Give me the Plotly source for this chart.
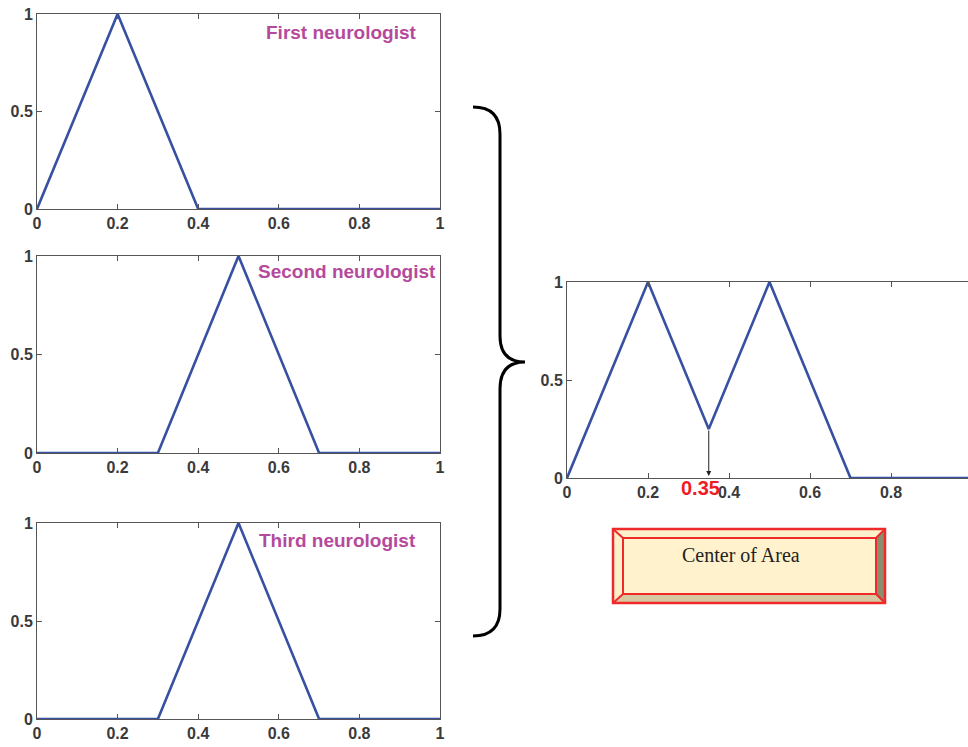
import plotly.graph_objects as go

# ---------------- data ----------------
x_first = [0, 0.2, 0.4, 1]
y_first = [0, 1, 0, 0]
x_second = [0, 0.3, 0.5, 0.7, 1]
y_second = [0, 0, 1, 0, 0]
x_third = [0, 0.3, 0.5, 0.7, 1]
y_third = [0, 0, 1, 0, 0]
x_agg = [0, 0.2, 0.35, 0.5, 0.7, 1]
y_agg = [0, 1, 0.25, 1, 0, 0]
coa_value = 0.35
coa_level = 0.25
titles = ["First neurologist", "Second neurologist", "Third neurologist"]
box_label = "Center of Area"
x_ticks = [0, 0.2, 0.4, 0.6, 0.8, 1]
x_tick_text = ["0", "0.2", "0.4", "0.6", "0.8", "1"]
y_ticks = [0, 0.5, 1]
y_tick_text = ["0", "0.5", "1"]

W, H = 968, 747
def px(x):
    return x / W
def py(y):
    return 1 - y / H

BLUE = "#3750A2"
MAG = "#B54A9C"
AX = "#555555"
TXT = "#3a3a3a"
FONT = "Liberation Sans Narrow, Arial Narrow, Liberation Sans, Arial, sans-serif"

fig = go.Figure()
series = [(x_first, y_first), (x_second, y_second), (x_third, y_third), (x_agg, y_agg)]
for i, (xs, ys) in enumerate(series):
    fig.add_trace(go.Scatter(x=xs, y=ys, mode="lines",
                             line=dict(color=BLUE, width=2.6),
                             xaxis="x" if i == 0 else f"x{i+1}",
                             yaxis="y" if i == 0 else f"y{i+1}",
                             showlegend=False, hoverinfo="skip"))

def xax(domain, anchor, rng=(0, 1)):
    return dict(domain=domain, anchor=anchor, range=list(rng), tickvals=x_ticks, ticktext=x_tick_text,
                ticks="inside", ticklen=5, tickcolor=AX, showline=True, linecolor=AX, linewidth=1,
                mirror="ticks", showgrid=False, zeroline=False, automargin=False,
                ticklabeloverflow="allow",
                tickfont=dict(family=FONT, size=16, color=TXT, weight="bold"))

def yax(domain, anchor, mirror="ticks"):
    return dict(domain=domain, anchor=anchor, range=[0, 1], tickvals=y_ticks, ticktext=y_tick_text,
                ticks="inside", ticklen=5, tickcolor=AX, showline=True, linecolor=AX, linewidth=1,
                mirror=mirror, showgrid=False, zeroline=False, automargin=False,
                ticklabeloverflow="allow",
                tickfont=dict(family=FONT, size=16, color=TXT, weight="bold"))

left_dom = [px(37), px(440)]
panels_y = [(14, 209), (256, 453), (523, 719)]
layout = dict(width=W, height=H, margin=dict(l=0, r=0, t=0, b=0, pad=0, autoexpand=False),
              template="none",
              paper_bgcolor="white", plot_bgcolor="white", showlegend=False)
for i, (top, bot) in enumerate(panels_y):
    sfx = "" if i == 0 else str(i + 1)
    layout[f"xaxis{sfx}"] = xax(left_dom, f"y{sfx}")
    layout[f"yaxis{sfx}"] = yax([py(bot), py(top)], f"x{sfx}")

right_x0, right_unit = 567, 405
layout["xaxis4"] = xax([px(right_x0), 1.0], "y4", rng=(0, (W - right_x0) / right_unit))
layout["yaxis4"] = yax([py(478), py(282)], "x4", mirror=False)
fig.update_layout(**layout)

# titles
title_pos = [(341, 33), (347, 271), (337, 540)]
for t, (cx, cy) in zip(titles, title_pos):
    fig.add_annotation(text=t, x=px(cx), y=py(cy), xref="paper", yref="paper",
                       showarrow=False, xanchor="center", yanchor="middle",
                       font=dict(family=FONT, size=19, color=MAG, weight="bold"))

# arrow at center of area
fig.add_annotation(x=coa_value, y=0, xref="x4", yref="y4", ax=coa_value, ay=coa_level,
                   axref="x4", ayref="y4", text="", showarrow=True, arrowhead=2,
                   arrowsize=1, arrowwidth=1, arrowcolor="#222222", standoff=2)
fig.add_annotation(x=coa_value, y=0, xref="x4", yref="y4", text=str(coa_value),
                   showarrow=False, xanchor="center", yanchor="middle", xshift=-8, yshift=-10,
                   font=dict(family=FONT, size=20, color="#EE1C25", weight="bold"))

# curly brace
def brace_path():
    pts = ("M {a},{b} Q {c},{b} {c},{d} L {c},{e} Q {c},{f} {g},{f} Q {c},{f} {c},{h} "
           "L {c},{i} Q {c},{j} {a},{j}")
    return pts.format(a=px(473), b=py(107), c=px(500), d=py(134), e=py(336),
                      f=py(362), g=px(525), h=py(389), i=py(609), j=py(636))
fig.add_shape(type="path", path=brace_path(), xref="paper", yref="paper",
              line=dict(color="black", width=3))

# Center of Area button
ox0, oy0, ox1, oy1 = 613, 529, 885, 603
ix0, iy0, ix1, iy1 = 623, 538, 876, 594
RED = "#EE2A2A"
fig.add_shape(type="rect", x0=px(ox0), y0=py(oy1), x1=px(ox1), y1=py(oy0), xref="paper", yref="paper",
              fillcolor="#FDF1CB", line=dict(width=0))
def poly(p):
    return "M " + " L ".join(f"{px(a)},{py(b)}" for a, b in p) + " Z"
fig.add_shape(type="path", path=poly([(ix1, iy0), (ox1, oy0), (ox1, oy1), (ix1, iy1)]),
              xref="paper", yref="paper", fillcolor="#8E8C6E", line=dict(width=0))
fig.add_shape(type="path", path=poly([(ix0, iy1), (ix1, iy1), (ox1, oy1), (ox0, oy1)]),
              xref="paper", yref="paper", fillcolor="#D6C9A1", line=dict(width=0))
fig.add_shape(type="rect", x0=px(ix0), y0=py(iy1), x1=px(ix1), y1=py(iy0), xref="paper", yref="paper",
              fillcolor="#FFF2CD", line=dict(color=RED, width=2))
for (a, b), (c, d) in [((ox0, oy0), (ix0, iy0)), ((ox1, oy0), (ix1, iy0)),
                       ((ox0, oy1), (ix0, iy1)), ((ox1, oy1), (ix1, iy1))]:
    fig.add_shape(type="line", x0=px(a), y0=py(b), x1=px(c), y1=py(d), xref="paper", yref="paper",
                  line=dict(color=RED, width=2))
fig.add_shape(type="rect", x0=px(ox0), y0=py(oy1), x1=px(ox1), y1=py(oy0), xref="paper", yref="paper",
              line=dict(color=RED, width=2.5))
fig.add_annotation(text=box_label, x=px(741), y=py(555), xref="paper", yref="paper",
                   showarrow=False, xanchor="center", yanchor="middle",
                   font=dict(family="Liberation Serif, Times New Roman, serif", size=20, color="#222222"))

# remove the default 8px page margin so the figure fills the window exactly
fig.write_html("out.html", config={"displayModeBar": False},
               post_script="document.body.style.margin='0';document.body.style.overflow='hidden';")
